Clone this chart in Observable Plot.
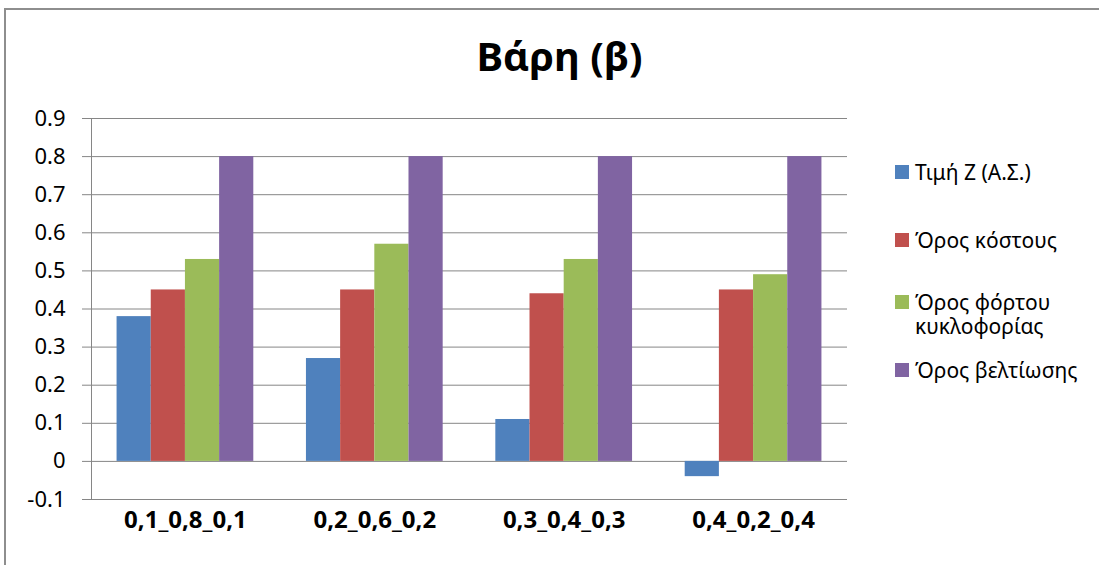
<!DOCTYPE html>
<html>
<head>
<meta charset="utf-8">
<script src="https://cdn.jsdelivr.net/npm/d3@7"></script>
<script src="https://cdn.jsdelivr.net/npm/@observablehq/plot@0.6"></script>
<style>
  html, body { margin: 0; padding: 0; background: #fff; }
  #wrap { position: relative; width: 1099px; height: 565px; overflow: hidden; background: #fff; font-family: "Noto Sans", sans-serif; }
  #frame { position: absolute; left: 4px; top: 8px; width: 1200px; height: 700px; border: 2px solid #8e8e8e; }
  #title { position: absolute; left: 0; top: 32px; width: 1119px; text-align: center; font-size: 40px; font-weight: bold; line-height: 48px; color: #000; }
  .layer { position: absolute; left: 0; top: 100px; }
  .leg { position: absolute; left: 895px; display: flex; align-items: flex-start; font-size: 21px; line-height: 24px; color: #000; }
  .sw { width: 14px; height: 14px; margin-top: 5px; margin-right: 6px; flex: none; }
  .lt { width: 180px; }
</style>
</head>
<body>
<div id="wrap">
  <div id="frame"></div>
  <div id="title"></div>
  <div id="grid" class="layer"></div>
  <div id="bars" class="layer"></div>
  <div id="legend"></div>
</div>
<script>
const title = "Βάρη (β)";
const categories = ["0,1_0,8_0,1", "0,2_0,6_0,2", "0,3_0,4_0,3", "0,4_0,2_0,4"];
const series = ["Τιμή Z (Α.Σ.)", "Όρος κόστους", "Όρος φόρτου κυκλοφορίας", "Όρος βελτίωσης"];
const zValues = [0.38, 0.27, 0.11, -0.04];
const costValues = [0.45, 0.45, 0.44, 0.45];
const loadValues = [0.53, 0.57, 0.53, 0.49];
const improveValues = [0.80, 0.80, 0.80, 0.80];
const yTicks = [-0.1, 0, 0.1, 0.2, 0.3, 0.4, 0.5, 0.6, 0.7, 0.8, 0.9];
const yTickLabels = ["-0.1", "0", "0.1", "0.2", "0.3", "0.4", "0.5", "0.6", "0.7", "0.8", "0.9"];
const colors = ["#4F81BD", "#C0504D", "#9BBB59", "#8064A2"];

const seriesValues = [zValues, costValues, loadValues, improveValues];
const data = [];
categories.forEach((c, i) => {
  series.forEach((s, j) => data.push({cat: c, series: s, value: seriesValues[j][i]}));
});

document.getElementById("title").textContent = title;

const W = 860, H = 440;
const M = {marginLeft: 91, marginRight: 13, marginTop: 18, marginBottom: 41};
const yDomain = [yTicks[0], yTicks[yTicks.length - 1]];

const grid = Plot.plot({
  width: W, height: H, ...M,
  style: {fontFamily: "Noto Sans", fontSize: "22px", background: "transparent", color: "#000"},
  x: {domain: [0, 1], axis: null},
  y: {domain: yDomain, axis: null},
  marks: [
    Plot.ruleY(yTicks, {stroke: "#868686", strokeWidth: 1}),
    Plot.ruleX([0], {y1: yDomain[0], y2: yDomain[1], stroke: "#868686", strokeWidth: 1}),
    Plot.axisY({ticks: yTicks, tickSize: 9, tickPadding: 17, stroke: "#868686", fill: "#000",
      tickFormat: d => yTickLabels[yTicks.findIndex(t => Math.abs(t - d) < 1e-9)], label: null, fontSize: 22})
  ]
});
document.getElementById("grid").appendChild(grid);

const bars = Plot.plot({
  width: W, height: H, ...M,
  style: {fontFamily: "Noto Sans", fontSize: "22px", background: "transparent", color: "#000"},
  fx: {domain: categories, paddingInner: 0.278, paddingOuter: 0.135, round: false, label: null},
  x: {domain: series, padding: 0, round: false, axis: null},
  y: {domain: yDomain, axis: null},
  color: {domain: series, range: colors},
  marks: [
    Plot.barY(data, {fx: "cat", x: "series", y: "value", fill: "series"}),
    Plot.axisFx({anchor: "bottom", tickSize: 0, tickPadding: 11, fontSize: 24, fontWeight: "bold", label: null, fill: "#000"})
  ]
});
document.getElementById("bars").appendChild(bars);

const legendTops = [160, 228, 290, 358];
const legend = document.getElementById("legend");
series.forEach((s, i) => {
  const item = document.createElement("div");
  item.className = "leg";
  item.style.top = legendTops[i] + "px";
  item.innerHTML = `<div class="sw" style="background:${colors[i]}"></div><div class="lt"></div>`;
  item.querySelector(".lt").textContent = s;
  legend.appendChild(item);
});
</script>
</body>
</html>
